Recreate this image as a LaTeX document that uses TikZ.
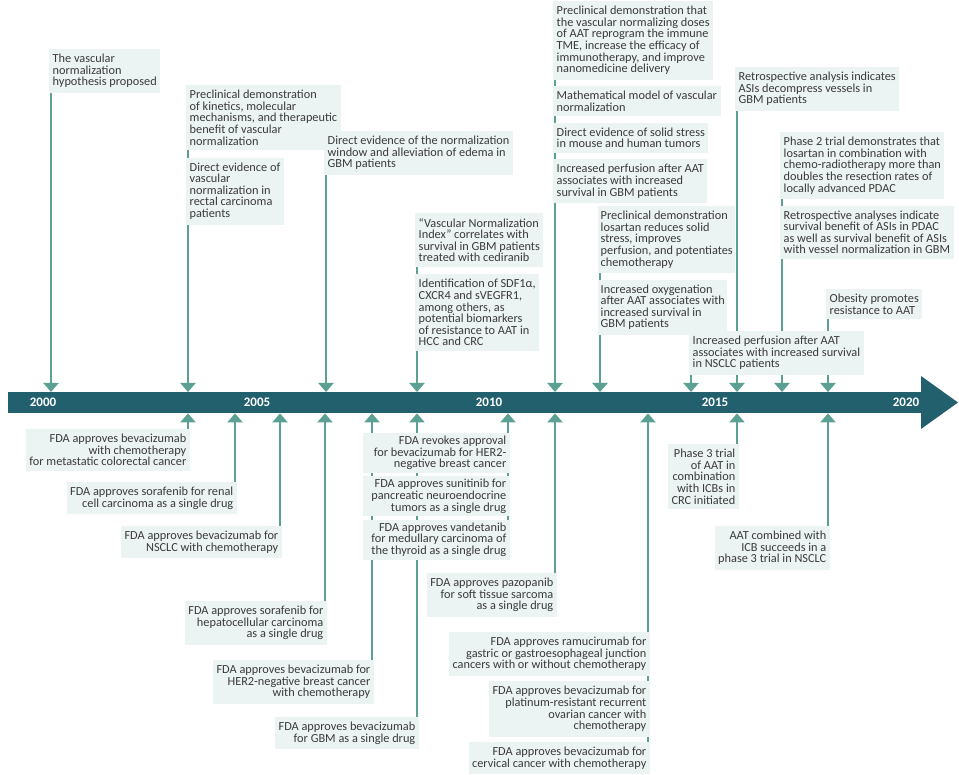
\documentclass[tikz,border=0pt]{standalone}
\usepackage{fontspec}
\setmainfont{Carlito}
\usetikzlibrary{arrows.meta,positioning,backgrounds}
\definecolor{barcolor}{RGB}{35,96,110}
\definecolor{linecolor}{RGB}{92,160,148}
\definecolor{boxcolor}{RGB}{236,244,243}
\definecolor{textcolor}{RGB}{58,58,58}

\begin{document}
\begin{tikzpicture}[
    x=1pt, y=-1pt,
    node distance=6pt,
    topbox/.style={rectangle, fill=boxcolor, text=textcolor, align=left, inner xsep=3.5pt, inner ysep=5pt, font=\fontsize{12.3}{11.6}\selectfont, anchor=north west},
    botbox/.style={topbox, align=flush right, anchor=north east},
    year/.style={text=white, font=\fontsize{13}{13}\selectfont\bfseries},
    downline/.style={draw=linecolor, line width=2.6pt, -{Triangle[width=15pt,length=9pt]}},
    upline/.style={downline}
]
\useasboundingbox (0,0) rectangle (959,775);

\node[fill=barcolor, inner sep=0pt, minimum width=913pt, minimum height=21pt, anchor=north west] (bar) at (8,392) {};
\fill[barcolor] (921,376) -- (958,402.5) -- (921,429) -- cycle;
\node[year] (y2000) at (43,402.5) {2000};
\node[year] (y2005) at (257,402.5) {2005};
\node[year] (y2010) at (489,402.5) {2010};
\node[year] (y2015) at (715,402.5) {2015};
\node[year] (y2020) at (906,402.5) {2020};

\node[topbox] (T1) at (49,49) {The vascular\\normalization\\hypothesis proposed};
\node[topbox] (T2) at (186,85) {Preclinical demonstration\\of kinetics, molecular\\mechanisms, and therapeutic\\benefit of vascular\\normalization};
\node[topbox, below=7pt of T2.south west, anchor=north west] (T3) {Direct evidence of\\vascular\\normalization in\\rectal carcinoma\\patients};
\node[topbox] (T4) at (324,131) {Direct evidence of the normalization\\window and alleviation of edema in\\GBM patients};
\node[topbox] (T5) at (415,213) {``Vascular Normalization\\Index'' correlates with\\survival in GBM patients\\treated with cediranib};
\node[topbox, below=7pt of T5.south west, anchor=north west] (T6) {Identification of SDF1α,\\CXCR4 and sVEGFR1,\\among others, as\\potential biomarkers\\of resistance to AAT in\\HCC and CRC};
\node[topbox] (T7) at (553,1) {Preclinical demonstration that\\the vascular normalizing doses\\of AAT reprogram the immune\\TME, increase the efficacy of\\immunotherapy, and improve\\nanomedicine delivery};
\node[topbox, below=6pt of T7.south west, anchor=north west] (T8) {Mathematical model of vascular\\normalization};
\node[topbox, below=6pt of T8.south west, anchor=north west] (T9) {Direct evidence of solid stress\\in mouse and human tumors};
\node[topbox, below=6pt of T9.south west, anchor=north west] (T10) {Increased perfusion after AAT\\associates with increased\\survival in GBM patients};
\node[topbox, inner xsep=2.5pt] (T11) at (598,206) {Preclinical demonstration\\losartan reduces solid\\stress, improves\\perfusion, and potentiates\\chemotherapy};
\node[topbox, inner xsep=2.5pt, below=6pt of T11.south west, anchor=north west] (T12) {Increased oxygenation\\after AAT associates with\\increased survival in\\GBM patients};
\node[topbox] (T13) at (735,67) {Retrospective analysis indicates\\ASIs decompress vessels in\\GBM patients};
\node[topbox] (T14) at (780,132) {Phase 2 trial demonstrates that\\losartan in combination with\\chemo-radiotherapy more than\\doubles the resection rates of\\locally advanced PDAC};
\node[topbox, below=6pt of T14.south west, anchor=north west] (T15) {Retrospective analyses indicate\\survival benefit of ASIs in PDAC\\as well as survival benefit of ASIs\\with vessel normalization in GBM};
\node[topbox] (T16) at (826,289) {Obesity promotes\\resistance to AAT};
\node[topbox] (T17) at (689,331) {Increased perfusion after AAT\\associates with increased survival\\in NSCLC patients};

\node[botbox] (B1) at (190,429) {FDA approves bevacizumab\\with chemotherapy\\for metastatic colorectal cancer};
\node[botbox] (B2) at (237,482) {FDA approves sorafenib for renal\\cell carcinoma as a single drug};
\node[botbox] (B3) at (282,526) {FDA approves bevacizumab for\\NSCLC with chemotherapy};
\node[botbox] (B4) at (327,601) {FDA approves sorafenib for\\hepatocellular carcinoma\\as a single drug};
\node[botbox] (B5) at (374,660) {FDA approves bevacizumab for\\HER2-negative breast cancer\\with chemotherapy};
\node[botbox] (B6) at (419,717) {FDA approves bevacizumab\\for GBM as a single drug};
\node[botbox, text width=140pt, inner ysep=3pt] (B7) at (510,433) {FDA revokes approval\\for bevacizumab for HER2-\\negative breast cancer};
\node[botbox, text width=140pt, inner ysep=3pt, below=3pt of B7.south east, anchor=north east] (B8) {FDA approves sunitinib for\\pancreatic neuroendocrine\\tumors as a single drug};
\node[botbox, text width=140pt, inner ysep=3pt, below=3pt of B8.south east, anchor=north east] (B9) {FDA approves vandetanib\\for medullary carcinoma of\\the thyroid as a single drug};
\node[botbox] (B10) at (557,573) {FDA approves pazopanib\\for soft tissue sarcoma\\as a single drug};
\node[botbox] (B11) at (650,632) {FDA approves ramucirumab for\\gastric or gastroesophageal junction\\cancers with or without chemotherapy};
\node[botbox, below=5pt of B11.south east, anchor=north east] (B12) {FDA approves bevacizumab for\\platinum-resistant recurrent\\ovarian cancer with\\chemotherapy};
\node[botbox, below=5pt of B12.south east, anchor=north east] (B13) {FDA approves bevacizumab for\\cervical cancer with chemotherapy};
\node[botbox] (B14) at (739,444) {Phase 3 trial\\of AAT in\\combination\\with ICBs in\\CRC initiated};
\node[botbox] (B15) at (830,526) {AAT combined with\\ICB succeeds in a\\phase 3 trial in NSCLC};

\begin{scope}[on background layer]
\draw[downline] ([xshift=2pt]T1.north west) -- ([xshift=2pt]T1.north west |- bar.north);
\draw[downline] ([xshift=2pt]T2.north west) -- ([xshift=2pt]T2.north west |- bar.north);
\draw[downline] ([xshift=2pt]T4.north west) -- ([xshift=2pt]T4.north west |- bar.north);
\draw[downline] ([xshift=2pt]T5.north west) -- ([xshift=2pt]T5.north west |- bar.north);
\draw[downline] ([xshift=2pt]T7.north west) -- ([xshift=2pt]T7.north west |- bar.north);
\draw[downline] ([xshift=2pt]T11.north west) -- ([xshift=2pt]T11.north west |- bar.north);
\draw[downline] ([xshift=2pt]T13.north west) -- ([xshift=2pt]T13.north west |- bar.north);
\draw[downline] ([xshift=2pt]T14.north west) -- ([xshift=2pt]T14.north west |- bar.north);
\draw[downline] ([xshift=2pt]T16.north west) -- ([xshift=2pt]T16.north west |- bar.north);
\draw[downline] ([xshift=2pt]T17.north west) -- ([xshift=2pt]T17.north west |- bar.north);

\draw[upline] ([xshift=-2pt]B1.north east) -- ([xshift=-2pt]B1.north east |- bar.south);
\draw[upline] ([xshift=-2pt]B2.north east) -- ([xshift=-2pt]B2.north east |- bar.south);
\draw[upline] ([xshift=-2pt]B3.north east) -- ([xshift=-2pt]B3.north east |- bar.south);
\draw[upline] ([xshift=-2pt]B4.north east) -- ([xshift=-2pt]B4.north east |- bar.south);
\draw[upline] ([xshift=-2pt]B5.north east) -- ([xshift=-2pt]B5.north east |- bar.south);
\draw[upline] ([xshift=-2pt]B6.north east) -- ([xshift=-2pt]B6.north east |- bar.south);
\draw[upline] ([xshift=-2pt]B9.north east) -- ([xshift=-2pt]B9.north east |- bar.south);
\draw[upline] ([xshift=-2pt]B10.north east) -- ([xshift=-2pt]B10.north east |- bar.south);
\draw[upline] ([xshift=-2pt]B13.north east) -- ([xshift=-2pt]B13.north east |- bar.south);
\draw[upline] ([xshift=-2pt]B14.north east) -- ([xshift=-2pt]B14.north east |- bar.south);
\draw[upline] ([xshift=-2pt]B15.north east) -- ([xshift=-2pt]B15.north east |- bar.south);
\end{scope}
\end{tikzpicture}
\end{document}
